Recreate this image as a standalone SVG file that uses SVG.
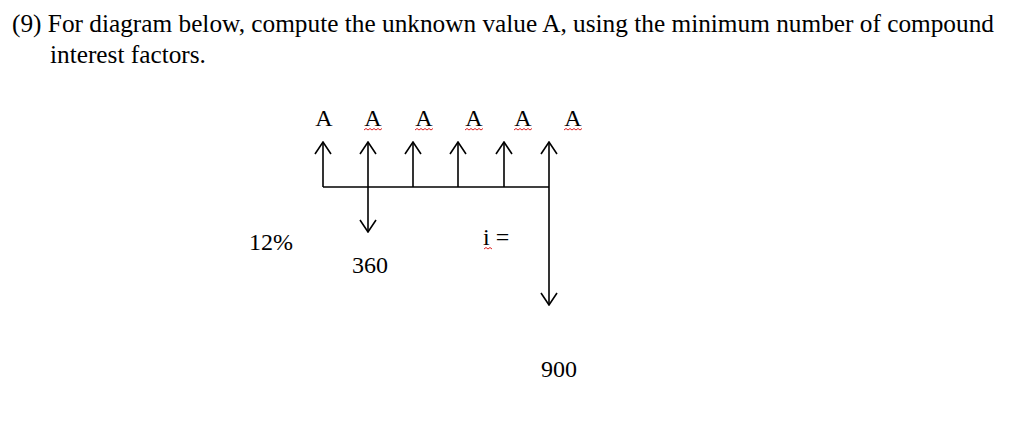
<svg xmlns="http://www.w3.org/2000/svg" width="1024" height="447" viewBox="0 0 1024 447">
<style>
text{font-family:"Liberation Serif","Times New Roman",serif;fill:#000}
.t{font-size:25.3px}.l{font-size:24px}
.ln{stroke:#000;stroke-width:1.6;fill:none}
.sq{stroke:#d22;stroke-width:1;fill:none}
</style>
<defs>
<marker id="ah" viewBox="0 0 14 18" refX="13" refY="9" markerWidth="14" markerHeight="18" markerUnits="userSpaceOnUse" orient="auto">
<path d="M1,1 L13,9 L1,17" fill="none" stroke="#000" stroke-width="1.6"/></marker>
</defs>
<rect width="1024" height="447" fill="#fff"/>
<text class="t" x="12" y="32">(9) For diagram below, compute the unknown value A, using the minimum number of compound</text>
<text class="t" x="50" y="63">interest factors.</text>
<g id="labels">
<text class="l" x="324" y="126" text-anchor="middle">A</text>
<text class="l" x="373" y="126" text-anchor="middle">A</text>
<text class="l" x="424" y="126" text-anchor="middle">A</text>
<text class="l" x="474" y="126" text-anchor="middle">A</text>
<text class="l" x="523" y="126" text-anchor="middle">A</text>
<text class="l" x="573" y="126" text-anchor="middle">A</text>
<text class="l" x="249" y="250">12%</text>
<text class="l" x="352" y="273">360</text>
<text class="l" x="483" y="245">i =</text>
<text class="l" x="541" y="377">900</text>
</g>
<g id="squiggles">
<path class="sq" d="M364,130 l2,-1.5 l2,1.5 l2,-1.5 l2,1.5 l2,-1.5 l2,1.5 l2,-1.5 l2,1.5 l2,-1.5"/>
<path class="sq" d="M415,130 l2,-1.5 l2,1.5 l2,-1.5 l2,1.5 l2,-1.5 l2,1.5 l2,-1.5 l2,1.5 l2,-1.5"/>
<path class="sq" d="M465,130 l2,-1.5 l2,1.5 l2,-1.5 l2,1.5 l2,-1.5 l2,1.5 l2,-1.5 l2,1.5 l2,-1.5"/>
<path class="sq" d="M514,130 l2,-1.5 l2,1.5 l2,-1.5 l2,1.5 l2,-1.5 l2,1.5 l2,-1.5 l2,1.5 l2,-1.5"/>
<path class="sq" d="M564,130 l2,-1.5 l2,1.5 l2,-1.5 l2,1.5 l2,-1.5 l2,1.5 l2,-1.5 l2,1.5 l2,-1.5"/>
<path class="sq" d="M484,249 l2,-1.5 l2,1.5 l2,-1.5 l2,1.5"/>
</g>
<g id="connectors">
<line class="ln" x1="323" y1="187" x2="549" y2="187"/>
<line class="ln" x1="323" y1="187" x2="323" y2="142" marker-end="url(#ah)"/>
<line class="ln" x1="368" y1="187" x2="368" y2="142" marker-end="url(#ah)"/>
<line class="ln" x1="368" y1="187" x2="368" y2="232" marker-end="url(#ah)"/>
<line class="ln" x1="413" y1="187" x2="413" y2="142" marker-end="url(#ah)"/>
<line class="ln" x1="458" y1="187" x2="458" y2="142" marker-end="url(#ah)"/>
<line class="ln" x1="504" y1="187" x2="504" y2="142" marker-end="url(#ah)"/>
<line class="ln" x1="549" y1="187" x2="549" y2="142" marker-end="url(#ah)"/>
<line class="ln" x1="549" y1="187" x2="549" y2="305" marker-end="url(#ah)"/>
</g>
</svg>
